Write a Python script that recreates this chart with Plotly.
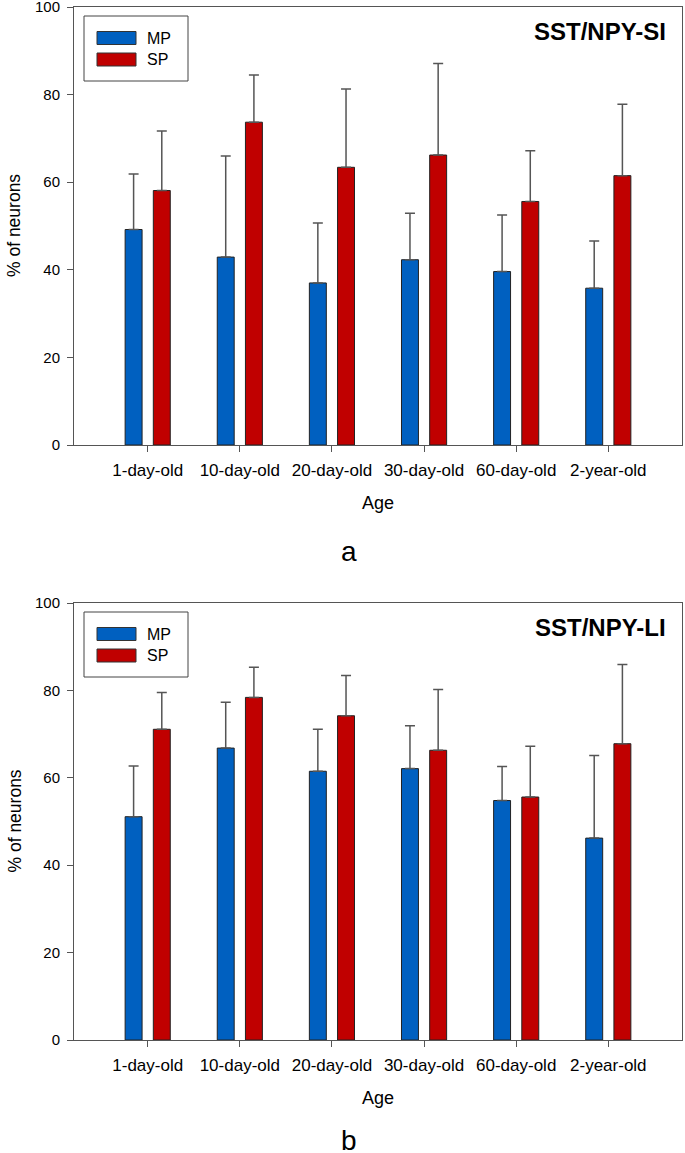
import plotly.graph_objects as go

categories = ["1-day-old", "10-day-old", "20-day-old", "30-day-old", "60-day-old", "2-year-old"]

# Panel a: SST/NPY-SI
a_mp = [49.2, 42.9, 37.0, 42.3, 39.6, 35.8]
a_mp_err = [12.7, 23.1, 13.7, 10.6, 12.9, 10.8]
a_sp = [58.1, 73.7, 63.4, 66.2, 55.6, 61.5]
a_sp_err = [13.6, 10.8, 17.9, 20.9, 11.6, 16.3]

# Panel b: SST/NPY-LI
b_mp = [51.1, 66.8, 61.5, 62.1, 54.8, 46.2]
b_mp_err = [11.6, 10.5, 9.6, 9.8, 7.8, 18.9]
b_sp = [71.1, 78.4, 74.2, 66.3, 55.6, 67.8]
b_sp_err = [8.4, 6.9, 9.2, 13.9, 11.6, 18.1]

y_ticks = [0, 20, 40, 60, 80, 100]

W, H = 685, 1153
FONT = "Arial, Liberation Sans, sans-serif"
BLUE = "#0060C0"
RED = "#C00000"

def px(x):
    return x / W

def py(y):
    return 1 - y / H

fig = go.Figure()
xs = list(range(len(categories)))

panels = [
    (a_mp, a_mp_err, a_sp, a_sp_err, "x", "y", 7, 445, "SST/NPY-SI", "a", 106),
    (b_mp, b_mp_err, b_sp, b_sp_err, "x2", "y2", 603, 1040, "SST/NPY-LI", "b", 100),
]

for mp, mpe, sp, spe, xa, ya, top, bot, title, letter, loff in panels:
    for vals, errs, col, off, name in [(mp, mpe, BLUE, -0.245, "MP"), (sp, spe, RED, 0.061, "SP")]:
        fig.add_trace(go.Bar(
            x=xs, y=vals, name=name, xaxis=xa, yaxis=ya,
            width=0.184, offset=off,
            marker=dict(color=col, line=dict(color="#222222", width=1)),
            error_y=dict(type="data", symmetric=False, array=errs,
                         arrayminus=[0] * len(errs), color="#555555",
                         thickness=1.5, width=5),
            showlegend=False, hoverinfo="skip",
        ))
    # legend box
    fig.add_shape(type="rect", xref="paper", yref="paper",
                  x0=px(84), x1=px(188), y0=py(top + 9), y1=py(top + 74),
                  line=dict(color="#444444", width=1), fillcolor="white")
    for i, (name, col) in enumerate([("MP", BLUE), ("SP", RED)]):
        yc = top + 31 + i * 21.5
        fig.add_shape(type="rect", xref="paper", yref="paper",
                      x0=px(97), x1=px(136), y0=py(yc - 6.5), y1=py(yc + 6.5),
                      line=dict(color="#333333", width=1), fillcolor=col)
        fig.add_annotation(xref="paper", yref="paper", x=px(145), y=py(yc),
                           text=name, showarrow=False, xanchor="left", yanchor="middle",
                           font=dict(family=FONT, size=16, color="black"))
    # panel title
    fig.add_annotation(xref="paper", yref="paper", x=px(668), y=py(top + 25),
                       text="<b>" + title + "</b>", showarrow=False,
                       xanchor="right", yanchor="middle",
                       font=dict(family=FONT, size=24, color="black"))
    # axis titles
    fig.add_annotation(xref="paper", yref="paper", x=px(378), y=py(bot + 58),
                       text="Age", showarrow=False, xanchor="center", yanchor="middle",
                       font=dict(family=FONT, size=18, color="black"))
    fig.add_annotation(xref="paper", yref="paper", x=px(14), y=py((top + bot) / 2),
                       text="% of neurons", showarrow=False, textangle=-90,
                       xanchor="center", yanchor="middle",
                       font=dict(family=FONT, size=17.5, color="black"))
    fig.add_annotation(xref="paper", yref="paper", x=px(349), y=py(bot + loff),
                       text=letter, showarrow=False, xanchor="center", yanchor="middle",
                       font=dict(family=FONT, size=28, color="black"))

xaxis_common = dict(
    range=[-0.8, 5.8], tickmode="array", tickvals=xs, ticktext=categories,
    showline=True, linecolor="#555555", linewidth=1, mirror=True,
    ticks="outside", ticklen=6, tickcolor="#555555", ticklabelstandoff=4,
    showgrid=False, zeroline=False, automargin=False, ticklabeloverflow="allow",
    tickfont=dict(family=FONT, size=17, color="black"),
    domain=[px(74), px(682)],
)
yaxis_common = dict(
    range=[0, 100], tickmode="array", tickvals=y_ticks,
    showline=True, linecolor="#555555", linewidth=1, mirror=True,
    ticks="outside", ticklen=6, tickcolor="#555555", ticklabelstandoff=4,
    showgrid=False, zeroline=False, automargin=False, ticklabeloverflow="allow",
    tickfont=dict(family=FONT, size=15, color="black"),
)

fig.update_layout(
    width=W, height=H,
    margin=dict(l=0, r=0, t=0, b=0, pad=0, autoexpand=False),
    paper_bgcolor="white", plot_bgcolor="white",
    barmode="overlay", hovermode=False,
    xaxis=dict(**xaxis_common, anchor="y"),
    yaxis=dict(**yaxis_common, anchor="x", domain=[py(445), py(7)]),
    xaxis2=dict(**xaxis_common, anchor="y2"),
    yaxis2=dict(**yaxis_common, anchor="x2", domain=[py(1040), py(603)]),
)

fig.write_html("out.html", config={"displayModeBar": False},
               post_script="document.body.style.margin='0px';document.body.style.overflow='hidden';")
